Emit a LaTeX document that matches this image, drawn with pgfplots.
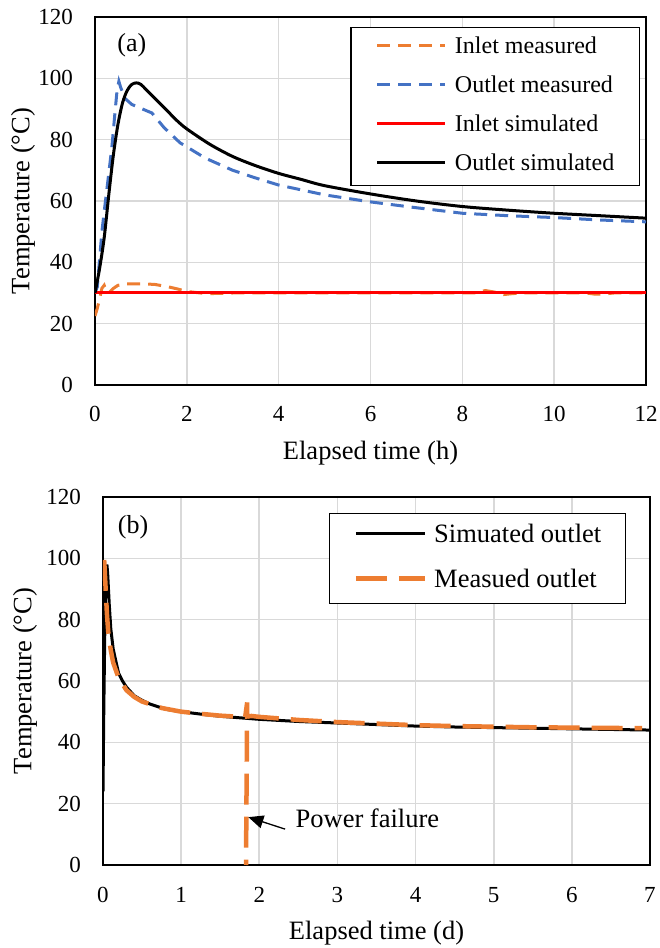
\documentclass[border=0pt]{standalone}
\usepackage{fontspec}
\setmainfont{Liberation Serif}
\usepackage{pgfplots}
\pgfplotsset{compat=1.18}
\usetikzlibrary{arrows.meta}
\definecolor{exblue}{HTML}{4472C4}
\definecolor{exorange}{HTML}{ED7D31}
\definecolor{gridgray}{HTML}{D9D9D9}
\pgfplotsset{
  common/.style={
    scale only axis, anchor=south west,
    ymin=0, ymax=120, ytick={0,20,...,120},
    grid=major, major grid style={draw=gridgray, line width=1.6pt},
    axis line style={line width=1.8pt},
    tick style={draw=none},
    /pgf/number format/assume math mode=true,
    ticklabel style={font=\fontsize{23}{27}\selectfont},
    xticklabel style={anchor=base, yshift=-37pt},
    yticklabel style={anchor=east, inner sep=0pt, xshift=-22pt},
    label style={font=\fontsize{26.5}{30}\selectfont},
    xlabel style={at={(axis description cs:0.5,-0.2038)}, anchor=base},
    ylabel={Temperature (°C)},
  }
}
\begin{document}
\begin{tikzpicture}
\useasboundingbox (0pt,0pt) rectangle (659pt,948pt);
% ---------------- (a)
\begin{axis}[common,
  at={(95pt,563pt)}, width=551pt, height=368pt,
  xmin=0, xmax=12, xtick={0,2,...,12},
  xlabel={Elapsed time (h)},
  ylabel style={at={(axis description cs:-0.1307,0.5)}, anchor=center},
  legend style={at={(0.989,0.973)}, anchor=north east, draw=black, line width=1.3pt,
    font=\fontsize{24}{28}\selectfont, inner xsep=25pt, inner ysep=9.5pt,
    row sep=18.2pt, cells={anchor=base west},
    nodes={inner sep=0pt, text height=16pt, text depth=5pt},
    /tikz/every odd column/.append style={column sep=8pt}},
  legend image code/.code={\draw[#1] (0pt,7.8pt) -- (68pt,7.8pt);},
]
\addplot[exorange, line width=3pt, dash pattern=on 13pt off 8pt] coordinates {
(0,22.5)(0.05,25)(0.1,28)(0.15,31.5)(0.2,32.5)(0.25,30.5)(0.3,30)(0.4,31.5)(0.5,32.5)
(0.7,33)(1.0,33)(1.3,32.8)(1.6,32)(1.8,31.3)(2.0,30.5)(2.3,30)(2.5,29.8)(3,30)(4,30)
(5,30)(6,30)(7,30)(8.3,30)(8.5,30.8)(8.7,30.3)(8.9,29.5)(9.1,29.8)(9.3,30)(10,30)
(10.7,30)(10.9,29.6)(11.1,29.7)(11.3,30)(12,30)};
\addlegendentry{Inlet measured}
\addplot[exblue, line width=3pt, dash pattern=on 13pt off 8pt] coordinates {
(0,30)(0.05,32)(0.1,41)(0.15,50)(0.22,59)(0.3,69)(0.37,78)(0.43,88)(0.48,96)(0.52,99)
(0.56,97)(0.65,93.5)(0.8,91.5)(1.0,90.2)(1.24,88.7)(1.5,84)(1.85,79)(2.4,74)(3,70)
(3.5,67.5)(4,65.2)(5,62)(6,59.7)(7,57.8)(8,56)(9,55.2)(10,54.6)(11,53.8)(12,53.2)};
\addlegendentry{Outlet measured}
\addplot[red, line width=3pt] coordinates {(0,30)(12,30)};
\addlegendentry{Inlet simulated}
\addplot[black, line width=3pt, smooth] coordinates {
(0,30)(0.1,38)(0.2,48)(0.3,62)(0.4,75)(0.5,85)(0.6,92)(0.7,96)(0.8,98)(0.9,98.5)
(1.0,98)(1.2,95)(1.4,92)(1.6,89)(1.8,86)(2,83.5)(2.5,78.5)(3,74.5)(3.5,71.5)(4,69)
(4.5,67)(5,65)(6,62.3)(7,60)(8,58.2)(9,57)(10,56)(11,55.2)(12,54.4)};
\addlegendentry{Outlet simulated}
\node[font=\fontsize{26}{30}\selectfont] at (rel axis cs:0.067,0.924) {(a)};
\end{axis}
% ---------------- (b)
\begin{axis}[common,
  at={(103pt,83pt)}, width=547pt, height=368pt,
  xmin=0, xmax=7, xtick={0,1,...,7},
  xlabel={Elapsed time (d)},
  ylabel style={at={(axis description cs:-0.1426,0.5)}, anchor=center},
  unbounded coords=jump,
  legend style={at={(0.956,0.9565)}, anchor=north east, draw=black, line width=1.3pt,
    font=\fontsize{26.5}{30}\selectfont, inner xsep=24pt, inner ysep=10.5pt,
    row sep=21pt, cells={anchor=base west},
    nodes={inner sep=0pt, text height=18pt, text depth=6pt},
    /tikz/every odd column/.append style={column sep=7pt}},
  legend image code/.code={\draw[#1] (0pt,8.7pt) -- (69pt,8.7pt);},
]
\addplot[black, line width=3pt] coordinates {
(0,24)(0.01,50)(0.025,80)(0.04,95)(0.05,98)(0.06,95)(0.08,85)(0.1,77)(0.13,70.5)
(0.16,67)(0.2,62.5)(0.25,60)(0.3,58)(0.4,55.2)(0.5,53.7)(0.6,52.5)(0.8,50.8)(1,50)
(1.25,49.2)(1.5,48.5)(1.75,48)(2,47.5)(2.5,46.8)(3,46.3)(3.5,45.8)(4,45.3)(4.5,45)
(5,44.8)(5.5,44.6)(6,44.4)(6.5,44.2)(7,44)};
\addlegendentry{Simuated outlet}
\addplot[exorange, line width=4.5pt, dash pattern=on 31pt off 12pt] coordinates {
(0.015,99.5)(0.03,92)(0.05,82)(0.07,75)(0.1,70)(0.13,66)(0.2,61)(0.3,57)(0.4,54.8)
(0.5,53.3)(0.75,51.2)(1,50)(1.25,49.3)(1.5,48.7)(1.7,48.4)(1.82,48.3)(1.845,53)
(1.83,0)(1.84,nan)(1.855,48.4)(1.9,48.6)(2,48.3)(2.5,47.3)(3,46.6)(3.5,46.1)(4,45.6)(4.5,45.3)
(5,45.1)(5.5,44.9)(6,44.8)(6.5,44.7)(6.9,44.6)};
\addlegendentry{Measued outlet}
\node[font=\fontsize{26}{30}\selectfont] at (rel axis cs:0.055,0.918) {(b)};
\draw[line width=1.3pt, -{Triangle[length=15pt,width=13pt]}] (axis cs:2.33,11.7) -- (axis cs:1.86,15.6);
\node[anchor=west, font=\fontsize{26.5}{30}\selectfont] at (axis cs:2.42,15.3) {Power failure};
\end{axis}
\end{tikzpicture}
\end{document}
